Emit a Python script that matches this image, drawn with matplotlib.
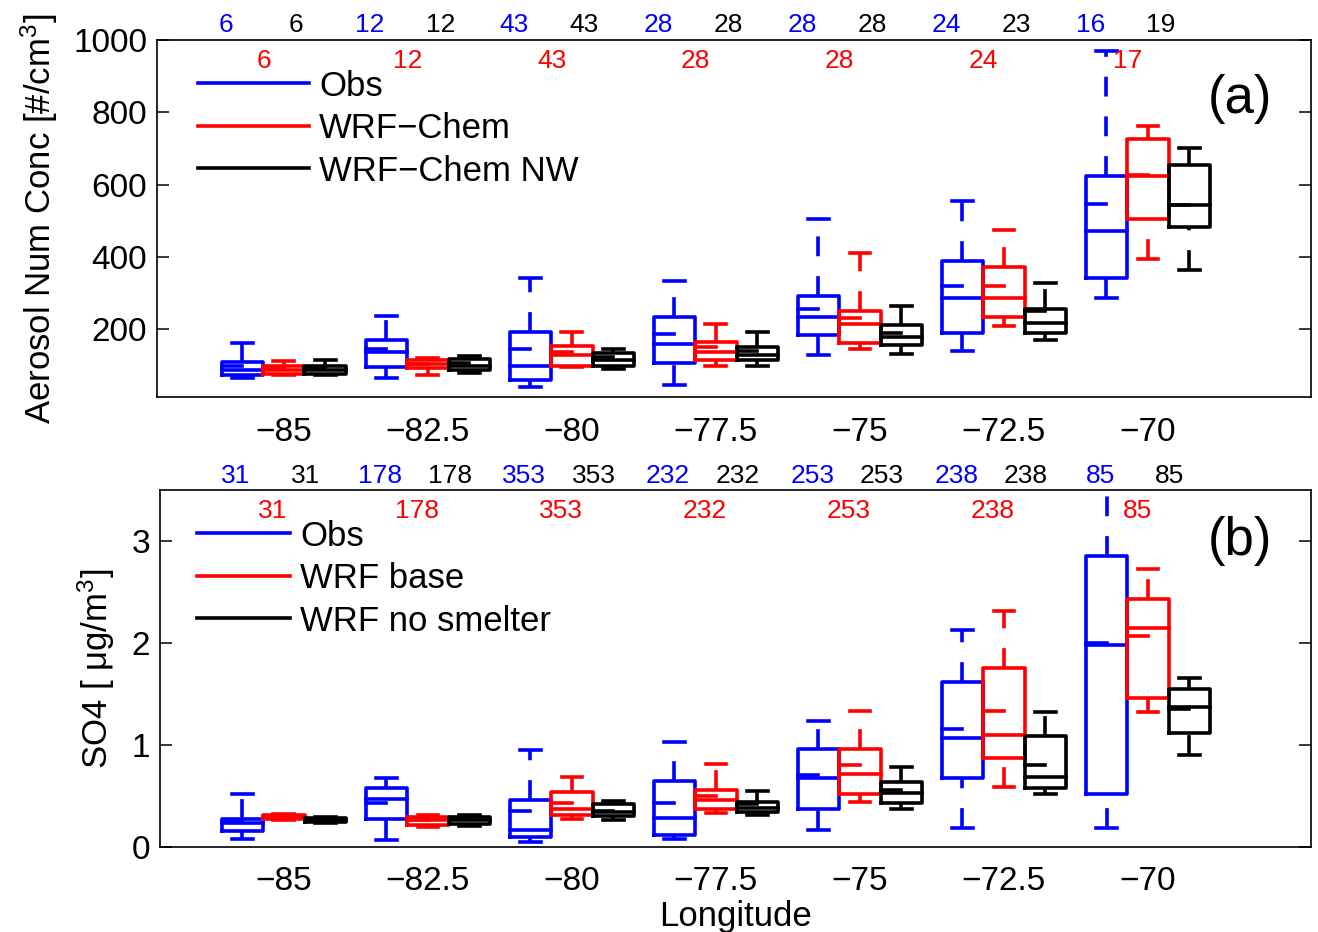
import matplotlib
matplotlib.use("Agg")
import matplotlib.pyplot as plt
from matplotlib.transforms import blended_transform_factory

plt.rcParams['font.family'] = ['Liberation Sans', 'DejaVu Sans']
plt.rcParams['mathtext.fontset'] = 'custom'
plt.rcParams['mathtext.rm'] = 'Liberation Sans'
plt.rcParams['mathtext.it'] = 'Liberation Sans:italic'

# ---- Data ----
longitudes = [-85, -82.5, -80, -77.5, -75, -72.5, -70]
lon_labels = ["\u221285", "\u221282.5", "\u221280", "\u221277.5",
              "\u221275", "\u221272.5", "\u221270"]

# each row: low whisker, q1, median, q3, high whisker, mean
aero_obs = [[66, 75, 87, 110, 163, 98],
            [65, 96, 137, 172, 236, 145],
            [42, 61, 98, 193, 343, 145],
            [45, 107, 160, 234, 333, 186],
            [130, 185, 234, 292, 504, 257],
            [139, 190, 287, 388, 554, 319],
            [287, 342, 471, 624, 970, 546]]
aero_wrf = [[75, 78, 87, 100, 112, 94],
            [73, 93, 104, 115, 120, 103],
            [96, 100, 128, 153, 193, 137],
            [98, 116, 137, 165, 216, 151],
            [147, 162, 214, 252, 412, 231],
            [209, 234, 287, 372, 476, 320],
            [395, 506, 624, 726, 762, 626]]
aero_nw = [[73, 77, 88, 100, 114, 92],
           [80, 89, 100, 117, 126, 106],
           [91, 99, 114, 135, 147, 123],
           [100, 116, 128, 151, 193, 140],
           [133, 156, 179, 213, 266, 190],
           [170, 190, 217, 257, 328, 251],
           [363, 483, 543, 654, 701, 545]]
aero_n_obs = [6, 12, 43, 28, 28, 24, 16]
aero_n_wrf = [6, 12, 43, 28, 28, 24, 17]
aero_n_nw = [6, 12, 43, 28, 28, 23, 19]

so4_obs = [[0.08, 0.16, 0.24, 0.27, 0.52, 0.25],
           [0.07, 0.27, 0.47, 0.575, 0.68, 0.43],
           [0.05, 0.095, 0.17, 0.46, 0.95, 0.35],
           [0.08, 0.12, 0.28, 0.65, 1.03, 0.435],
           [0.17, 0.37, 0.68, 0.96, 1.24, 0.71],
           [0.19, 0.68, 1.07, 1.62, 2.13, 1.16],
           [0.19, 0.52, 1.98, 2.85, 3.65, 2.0]]
so4_base = [[0.26, 0.27, 0.29, 0.31, 0.32, 0.29],
            [0.20, 0.22, 0.26, 0.29, 0.31, 0.26],
            [0.27, 0.31, 0.37, 0.54, 0.69, 0.435],
            [0.33, 0.37, 0.46, 0.56, 0.81, 0.50],
            [0.44, 0.52, 0.72, 0.96, 1.33, 0.80],
            [0.59, 0.87, 1.10, 1.76, 2.31, 1.33],
            [1.32, 1.46, 2.15, 2.43, 2.73, 2.07]]
so4_nosm = [[0.24, 0.25, 0.265, 0.28, 0.29, 0.27],
            [0.21, 0.23, 0.26, 0.29, 0.31, 0.27],
            [0.265, 0.30, 0.34, 0.42, 0.455, 0.35],
            [0.31, 0.34, 0.38, 0.445, 0.55, 0.42],
            [0.37, 0.43, 0.53, 0.64, 0.78, 0.56],
            [0.52, 0.58, 0.69, 1.09, 1.32, 0.80],
            [0.90, 1.12, 1.37, 1.55, 1.66, 1.35]]
so4_n = [31, 178, 353, 232, 253, 238, 85]

COLORS = ["#0000FF", "#FF0000", "#000000"]
LW = 2.6
DASH = (0, (5.5, 5.5))
WIDTH = 0.72
OFFSETS = [-0.72, 0.0, 0.72]
FS = 25


def draw_box(ax, x, stats, color, w=WIDTH):
    lo, q1, med, q3, hi, mean = stats
    left, right = x - w / 2, x + w / 2
    kw = dict(color=color, lw=LW)
    # whiskers drawn from the lower value up, caps solid
    ax.plot([x, x], [q3, hi], ls=DASH, **kw)
    ax.plot([x, x], [lo, q1], ls=DASH, **kw)
    ax.plot([x - w / 4, x + w / 4], [hi, hi], **kw)
    ax.plot([x - w / 4, x + w / 4], [lo, lo], **kw)
    ax.plot([left, right, right, left, left], [q1, q1, q3, q3, q1], **kw)
    ax.plot([left, right], [med, med], **kw)
    ax.plot([left, x], [mean, mean], **kw)


def draw_panel(ax, series, counts, count_dx, count_y):
    for s, (rows, color) in enumerate(zip(series, COLORS)):
        for lon, stats in zip(longitudes, rows):
            draw_box(ax, lon + OFFSETS[s], stats, color)
    trans = blended_transform_factory(ax.transData, ax.transAxes)
    for ns, color, dx, yy in zip(counts, COLORS, count_dx, count_y):
        for lon, n in zip(longitudes, ns):
            ax.text(lon + dx, yy, str(n), color=color, fontsize=19,
                    ha="center", va="baseline", transform=trans, clip_on=False)
    ax.set_xticks(longitudes)
    ax.set_xticklabels(lon_labels)
    ax.tick_params(axis="y", direction="in", right=True, length=8.5,
                   width=1.1, labelsize=24, pad=7)
    ax.tick_params(axis="x", length=0, labelsize=24)
    for sp in ax.spines.values():
        sp.set_linewidth(1.2)


def draw_key(ax, labels, x0, x1, xt):
    for y, lab, color in zip([0.8787, 0.7591, 0.6406], labels, COLORS):
        ax.plot([x0, x1], [y, y], color=color, lw=LW, transform=ax.transAxes)
        ax.text(xt, y - 0.0348, lab, fontsize=FS, ha="left", va="baseline",
                transform=ax.transAxes)


fig = plt.figure(figsize=(13.18, 9.32), dpi=100)
ax_a = fig.add_axes([0.1191, 0.5740, 0.8756, 0.3831])
ax_b = fig.add_axes([0.1214, 0.0912, 0.8733, 0.3830])

# (a) aerosol number concentration
draw_panel(ax_a, [aero_obs, aero_wrf, aero_nw],
           [aero_n_obs, aero_n_wrf, aero_n_nw],
           [-1.0, -0.35, 0.22], [1.0232, 0.9207, 1.0232])
ax_a.set_xlim(-87.2, -67.17)
ax_a.set_ylim(13, 1000)
ax_a.set_yticks([200, 400, 600, 800, 1000])
ax_a.tick_params(axis="x", pad=14.5)
ax_a.set_ylabel("Aerosol Num Conc [#/cm$^3$]", fontsize=FS)
ax_a.yaxis.set_label_coords(-0.084, 0.5)
draw_key(ax_a, ["Obs", "WRF\u2212Chem", "WRF\u2212Chem NW"],
         0.0353, 0.132, 0.1405)
ax_a.text(0.9385, 0.835, "(a)", fontsize=38, ha="center", va="center",
          transform=ax_a.transAxes)

# (b) sulfate
draw_panel(ax_b, [so4_obs, so4_base, so4_nosm], [so4_n, so4_n, so4_n],
           [-0.83, -0.19, 0.38], [1.0188, 0.9207, 1.0188])
ax_b.set_xlim(-87.15, -67.17)
ax_b.set_ylim(0, 3.5)
ax_b.set_yticks([0, 1, 2, 3])
ax_b.tick_params(axis="x", pad=14)
ax_b.set_ylabel("SO4 [ \u03bcg/m$^3$]", fontsize=FS)
ax_b.yaxis.set_label_coords(-0.037, 0.5)
ax_b.set_xlabel("Longitude", fontsize=FS)
ax_b.xaxis.set_label_coords(0.5, -0.148)
draw_key(ax_b, ["Obs", "WRF base", "WRF no smelter"], 0.0319, 0.1129, 0.1216)
ax_b.text(0.9385, 0.857, "(b)", fontsize=38, ha="center", va="center",
          transform=ax_b.transAxes)

fig.savefig("out.png", dpi=100, facecolor="white")
plt.close(fig)
